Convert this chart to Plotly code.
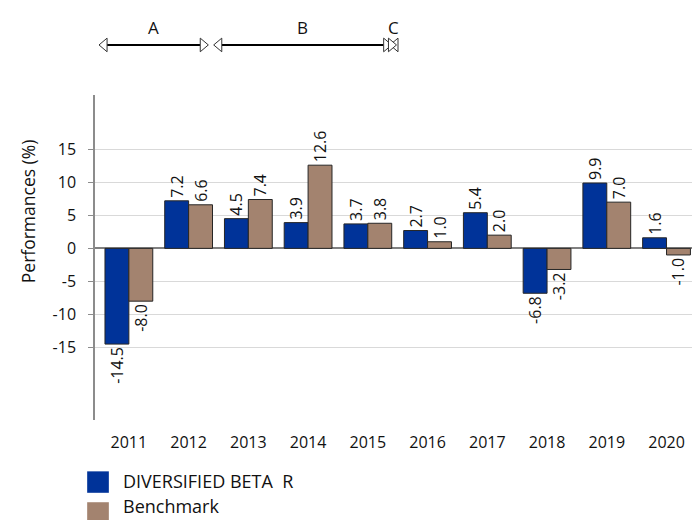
import plotly.graph_objects as go

years = ["2011", "2012", "2013", "2014", "2015", "2016", "2017", "2018", "2019", "2020"]
fund_name = "DIVERSIFIED BETA\u00a0 R"
bench_name = "Benchmark"
fund_values = [-14.5, 7.2, 4.5, 3.9, 3.7, 2.7, 5.4, -6.8, 9.9, 1.6]
bench_values = [-8.0, 6.6, 7.4, 12.6, 3.8, 1.0, 2.0, -3.2, 7.0, -1.0]

# management periods on the year axis (year index units)
period_labels = ["A", "B", "C"]
period_starts = [-0.5, 1.42, 4.37]
period_ends = [1.33, 4.40, 4.48]

y_ticks = [-15, -10, -5, 0, 5, 10, 15]
y_tick_labels = ["-15", "-10", "-5", "0", "5", "10", "15"]

FUND_COLOR = "#003399"
BENCH_COLOR = "#A3836F"
FONT = "Open Sans"
TXT = "#111111"

xpos = list(range(len(years)))

fig = go.Figure()
for name, vals, col in [(fund_name, fund_values, FUND_COLOR), (bench_name, bench_values, BENCH_COLOR)]:
    fig.add_trace(go.Bar(
        x=xpos, y=vals, name=name,
        marker=dict(color=col, line=dict(color="#262626", width=1)),
        text=[f"{v:.1f}" for v in vals],
        textposition="outside", textangle=-90,
        textfont=dict(family=FONT, size=16, color=TXT),
        constraintext="none", cliponaxis=False,
        showlegend=False,
    ))

# Period arrows above the plot
ARROW_Y = 1.154  # paper units
LABEL_Y = 1.207
head_w = 0.135   # x units
head_h = 0.021   # paper units
shapes = []
annotations = []
for lab, s, e in zip(period_labels, period_starts, period_ends):
    shapes.append(dict(type="line", xref="x", yref="paper", x0=s + head_w, x1=e - head_w,
                       y0=ARROW_Y, y1=ARROW_Y, line=dict(color="#000000", width=2)))
    shapes.append(dict(type="path", xref="x", yref="paper",
                       path=f"M {s},{ARROW_Y} L {s + head_w},{ARROW_Y + head_h} L {s + head_w},{ARROW_Y - head_h} Z",
                       fillcolor="white", line=dict(color="#333333", width=1)))
    shapes.append(dict(type="path", xref="x", yref="paper",
                       path=f"M {e},{ARROW_Y} L {e - head_w},{ARROW_Y + head_h} L {e - head_w},{ARROW_Y - head_h} Z",
                       fillcolor="white", line=dict(color="#333333", width=1)))
    annotations.append(dict(text=lab, xref="x", yref="paper", x=(s + e) / 2, y=LABEL_Y,
                            showarrow=False, font=dict(family=FONT, size=17, color=TXT),
                            xanchor="center", yanchor="middle"))

# y-axis title
annotations.append(dict(text="Performances (%)", xref="paper", yref="paper", x=-0.111, y=0.643,
                        textangle=-90, showarrow=False, xanchor="center", yanchor="middle",
                        font=dict(family=FONT, size=17.5, color=TXT)))

# Custom legend
legend_items = [(fund_name, FUND_COLOR), (bench_name, BENCH_COLOR)]
legend_text_y = [-0.189, -0.266]
for i, (name, col) in enumerate(legend_items):
    top = -0.158 - i * 0.095
    shapes.append(dict(type="rect", xref="paper", yref="paper",
                       x0=-0.013, x1=0.023, y0=top, y1=top - 0.066,
                       fillcolor=col, line=dict(width=0)))
    annotations.append(dict(text=name, xref="paper", yref="paper", x=0.045, y=legend_text_y[i],
                            showarrow=False, xanchor="left", yanchor="middle", borderpad=0,
                            font=dict(family=FONT, size=18, color=TXT)))

# the page body adds an 8px offset; the figure is sized to fill the rest of the window
fig.update_layout(
    width=692, height=512,
    margin=dict(l=87, r=3, t=87, b=100, autoexpand=False),
    paper_bgcolor="white", plot_bgcolor="white",
    barmode="group", bargap=0.2, bargroupgap=0,
    font=dict(family=FONT, size=15, color=TXT),
    shapes=shapes, annotations=annotations,
    showlegend=False,
)
fig.update_xaxes(
    range=[-0.567, 9.51], tickvals=xpos, ticktext=years,
    showgrid=False, zeroline=False, showline=False, automargin=False,
    ticks="outside", ticklen=8, tickcolor="rgba(0,0,0,0)",
    tickfont=dict(family=FONT, size=16, color=TXT),
)
fig.update_yaxes(
    range=[-26.0, 23.23], tickvals=y_ticks, ticktext=y_tick_labels, automargin=False,
    showgrid=True, gridcolor="#d9d9d9", gridwidth=1,
    zeroline=True, zerolinecolor="#808080", zerolinewidth=1.5,
    showline=True, linecolor="#8c8c8c", linewidth=1.5,
    ticks="outside", ticklen=5, tickcolor="#8c8c8c",
    ticklabelstandoff=9,
    tickfont=dict(family=FONT, size=16, color=TXT),
)

fig.write_html("out.html")
